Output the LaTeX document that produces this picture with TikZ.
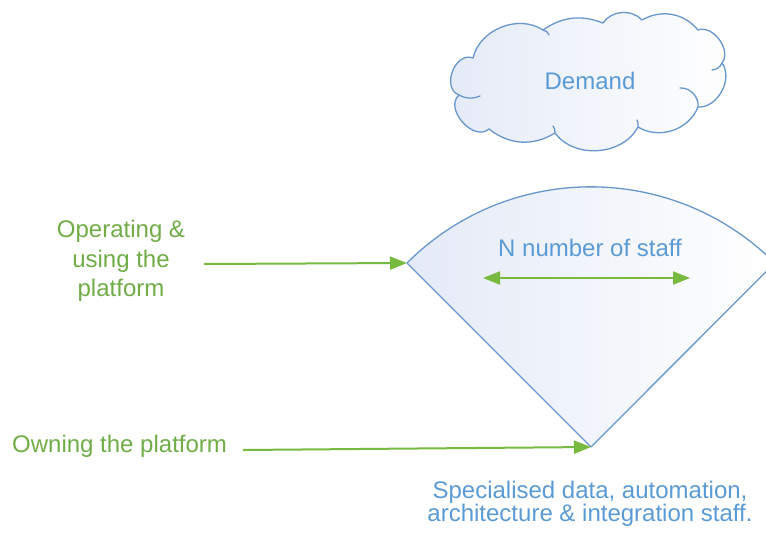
\documentclass[tikz,border=0pt]{standalone}
\usepackage{fontspec}
\setmainfont{Liberation Sans}
\usetikzlibrary{arrows.meta}
\definecolor{gtext}{RGB}{112,173,71}
\definecolor{garrow}{RGB}{120,186,64}
\definecolor{btext}{RGB}{91,155,213}
\definecolor{bline}{RGB}{104,151,206}
\definecolor{bfill}{RGB}{228,234,247}
\begin{document}
\begin{tikzpicture}[x=1pt,y=-1pt,
  greentext/.style={text=gtext,font=\fontsize{24}{29.5}\selectfont,inner sep=0pt},
  bluetext/.style={text=btext,font=\fontsize{24}{29.5}\selectfont,inner sep=0pt},
  garr/.style={draw=garrow,line width=2pt,-{Triangle[length=17pt,width=13pt]}},
  dgarr/.style={draw=garrow,line width=2pt,{Triangle[length=17pt,width=13pt]}-{Triangle[length=17pt,width=13pt]}},
  shapeline/.style={draw=bline,line width=1.3pt,line join=round},
  gradfill/.style={left color=bfill,right color=white},
  hook/.style={draw=bline,line width=1.3pt,line cap=round},
]
\clip (0,0) rectangle (766,533);
\fill[white] (0,0) rectangle (766,533);

% cloud
\coordinate (N1) at (543,30);
\coordinate (N2) at (473,58);
\coordinate (N3) at (459,95);
\coordinate (N4) at (489,129);
\coordinate (N5) at (555,133);
\coordinate (N6) at (638,127);
\coordinate (N7) at (698,107);
\coordinate (N8) at (722,63);
\coordinate (N9) at (698,30);
\coordinate (N10) at (642,20);
\coordinate (N11) at (603,23);
\path[shapeline,gradfill] (N1)
  to[bend right=55] (N2)
  to[bend right=90,looseness=1.25] (N3)
  to[bend right=90,looseness=1.15] (N4)
  to[bend right=35] (N5)
  to[bend right=58] (N6)
  to[bend right=50] (N7)
  to[bend right=65] (N8)
  to[bend right=75] (N9)
  to[bend right=40] (N10)
  to[bend right=52] (N11)
  to[bend right=28] cycle;
\coordinate (H1) at (549,35);
\coordinate (H3) at (480,96);
\coordinate (H5) at (553,126);
\coordinate (H6) at (637,120);
\coordinate (H7) at (680,88);
\coordinate (H8) at (712,70);
\draw[hook] (N1) to[bend left=30] (H1);
\draw[hook] (N3) to[bend right=25] (H3);
\draw[hook] (N5) to[bend right=20] (H5);
\draw[hook] (N6) to[bend right=15] (H6);
\draw[hook] (N7) to[bend right=50] (H7);
\draw[hook] (N8) to[bend left=30] (H8);
\node[bluetext,anchor=base] (demand) at (590,89) {Demand};

% sector
\coordinate (apex) at (591,447);
\coordinate (secL) at (407,263);
\path[shapeline,gradfill] (apex) -- (secL) arc[start angle=225,end angle=315,radius=260] coordinate (secR) -- cycle;

\node[bluetext,anchor=base] (nstaff) at (590,256) {N number of staff};
\coordinate (nl) at (483,278);
\coordinate (nr) at (690,278);
\draw[dgarr] (nl) -- (nr);

% left labels and arrows
\node[greentext,align=center] (oper) at (121,261) {Operating \&\\using the\\platform};
\coordinate (opstart) at (204,264);
\draw[garr] (opstart) -- (secL);

\node[greentext,anchor=base west] (own) at (12,452) {Owning the platform};
\coordinate (ownstart) at (243,450);
\draw[garr] (ownstart) -- (apex);

\node[bluetext,align=center,font=\fontsize{24}{23.5}\selectfont] (spec) at (590,504) {Specialised data, automation,\\architecture \& integration staff.};
\end{tikzpicture}
\end{document}
